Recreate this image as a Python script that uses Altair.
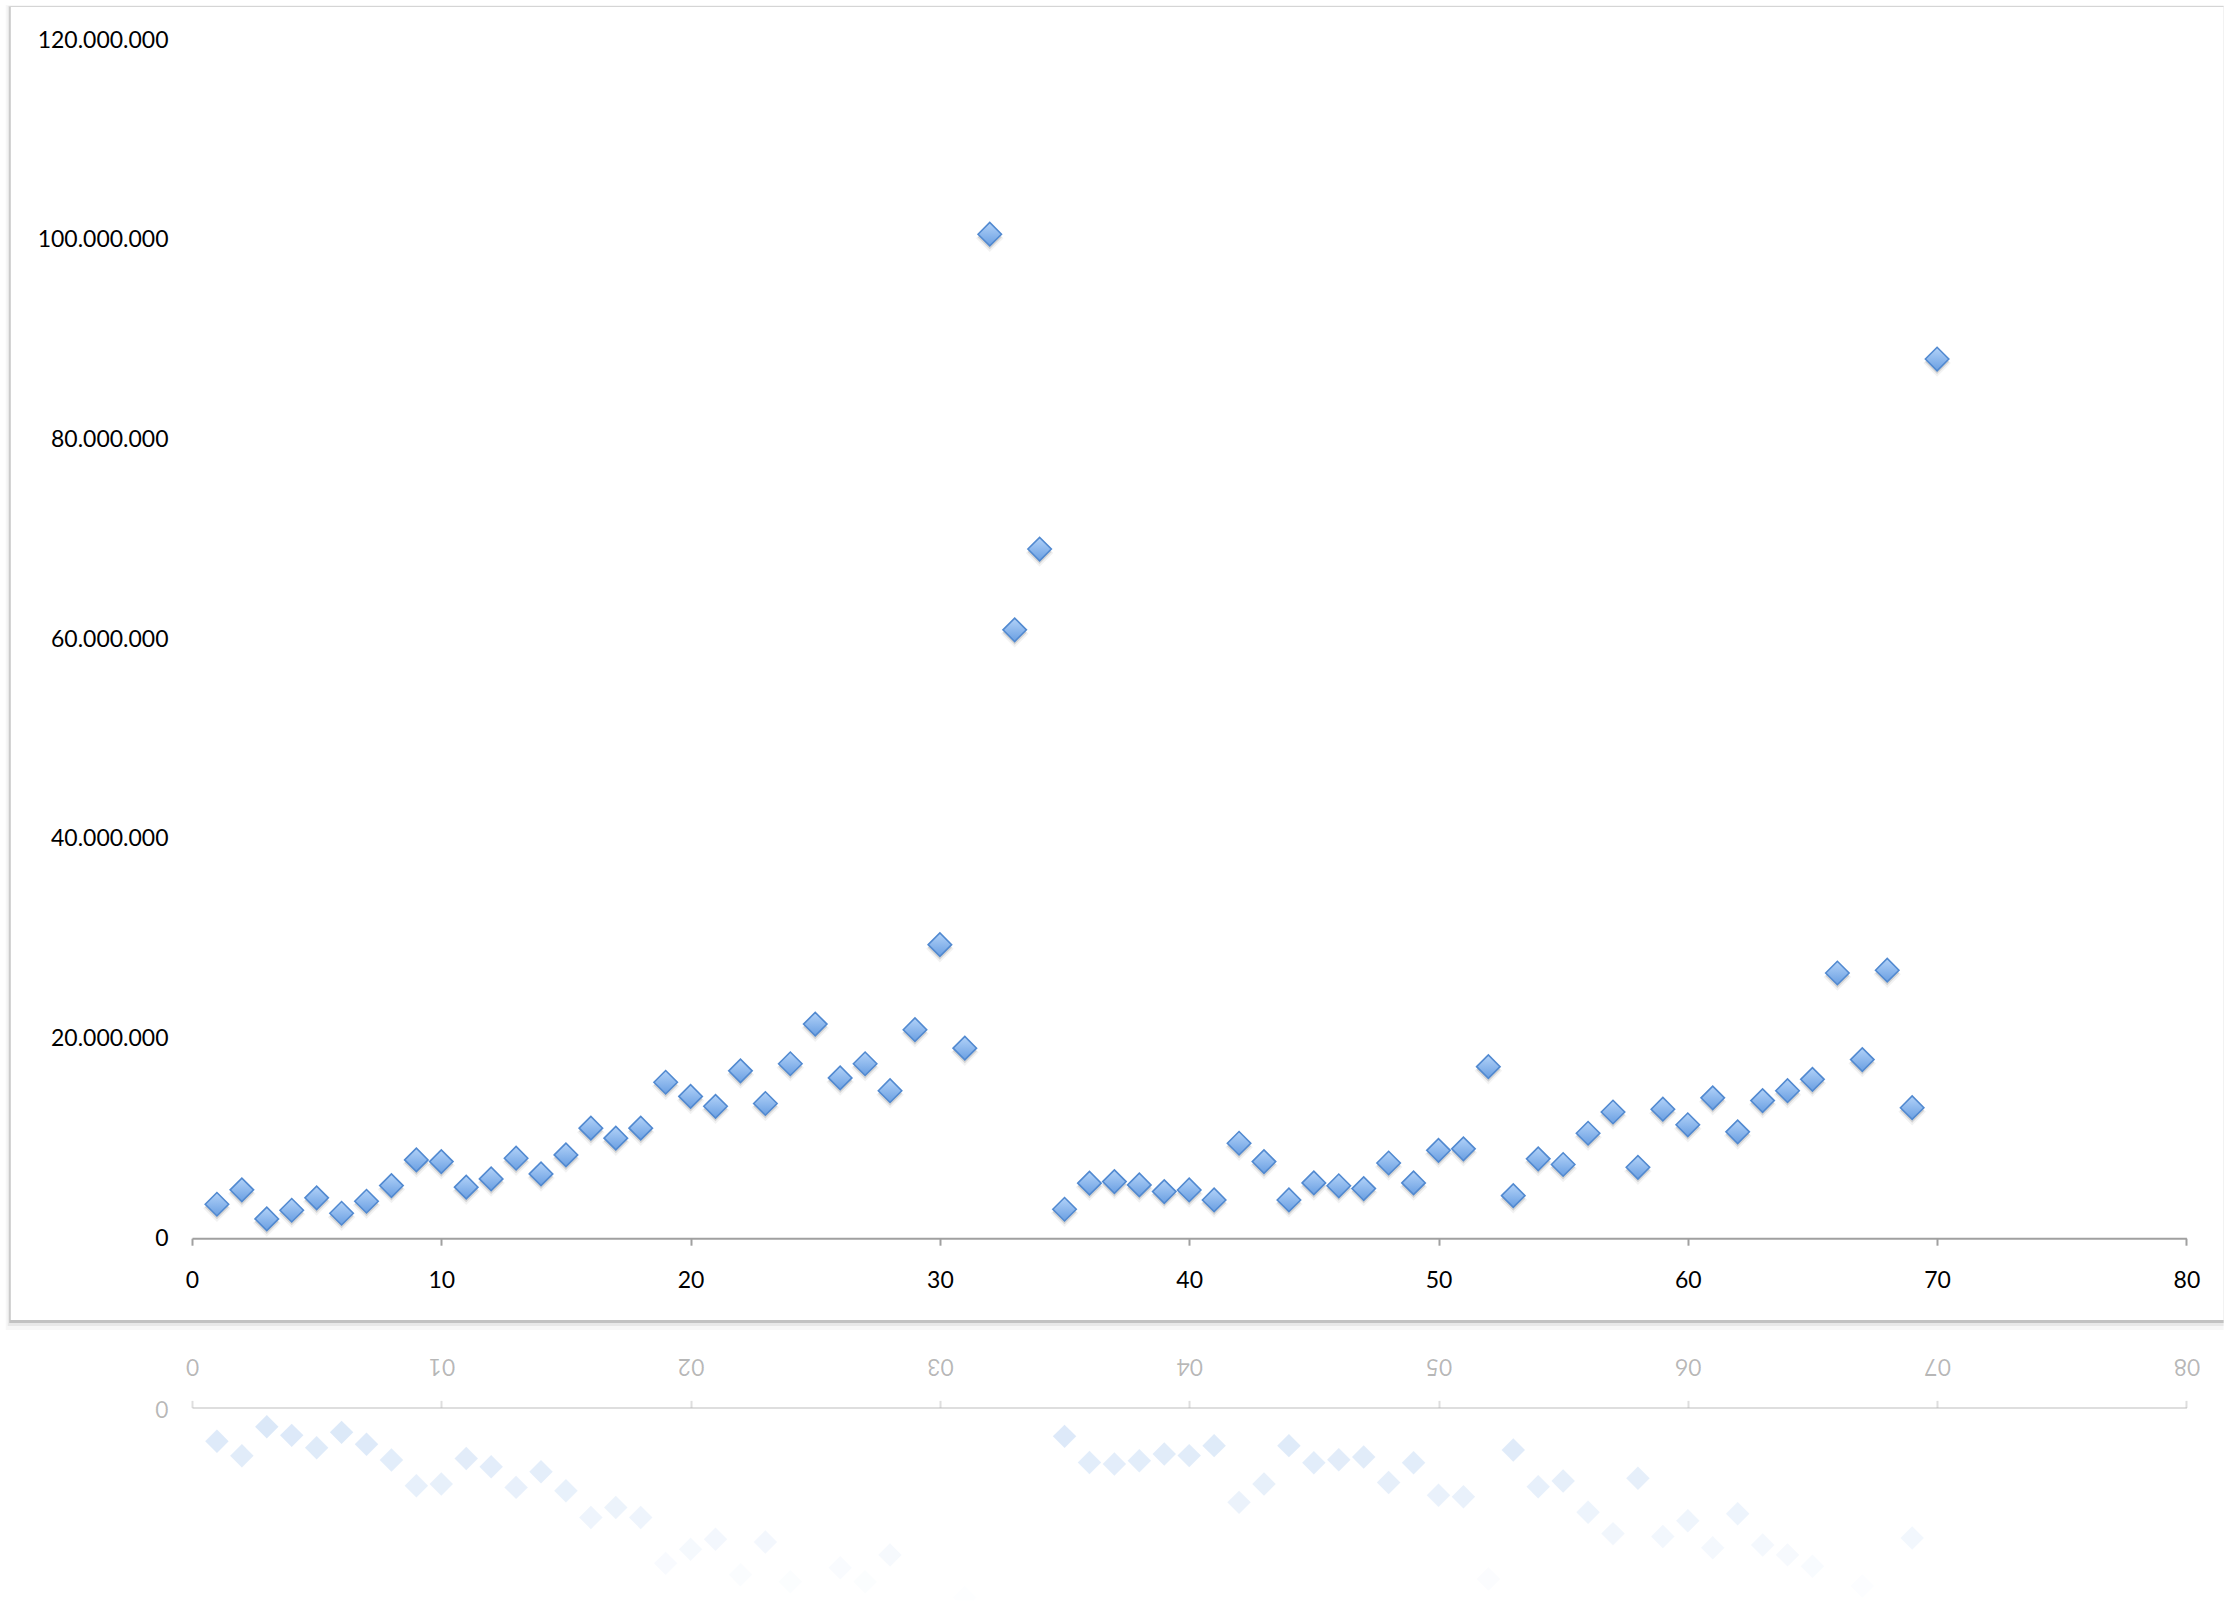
import altair as alt
import pandas as pd

# Period index and amount per period
periods = list(range(1, 71))
amounts = [
    3.40e6, 4.84e6, 1.93e6, 2.80e6, 4.04e6, 2.50e6, 3.70e6, 5.27e6, 7.84e6, 7.67e6,
    5.11e6, 5.94e6, 8.01e6, 6.44e6, 8.34e6, 11.02e6, 10.02e6, 11.02e6, 15.62e6, 14.20e6,
    13.21e6, 16.76e6, 13.49e6, 17.47e6, 21.44e6, 16.05e6, 17.47e6, 14.77e6, 20.88e6, 29.40e6,
    19.03e6, 100.55e6, 60.93e6, 69.02e6, 2.90e6, 5.51e6, 5.67e6, 5.34e6, 4.67e6, 4.83e6,
    3.83e6, 9.51e6, 7.67e6, 3.83e6, 5.54e6, 5.25e6, 4.97e6, 7.53e6, 5.54e6, 8.80e6,
    8.95e6, 17.18e6, 4.26e6, 7.95e6, 7.38e6, 10.51e6, 12.64e6, 7.10e6, 12.92e6, 11.36e6,
    14.06e6, 10.65e6, 13.78e6, 14.77e6, 15.91e6, 26.56e6, 17.89e6, 26.84e6, 13.07e6, 88.05e6,
]
x_ticks = list(range(0, 81, 10))
y_ticks = [0, 20_000_000, 40_000_000, 60_000_000, 80_000_000, 100_000_000, 120_000_000]

df = pd.DataFrame({"period": periods, "amount": amounts})
one_row = pd.DataFrame({"k": [0]})

FONT = "Lato"
FONT_SIZE = 23
AXIS_GREY = "#a0a0a0"
PX_PER_20M = 199.7
PLOT_W = 1994.4
PLOT_H = 6 * PX_PER_20M
REFL_H = 193
REFL_MAX = REFL_H / PX_PER_20M * 20_000_000
GAP = 168.4

dotted = "replace(format(datum.value, ','), regexp(',', 'g'), '.')"
# digits in reverse order; drawn turned over, this reads like a mirror image
mirrored_x = (
    "format(datum.value % 10, 'd') + "
    "(datum.value >= 10 ? format(floor(datum.value / 10), 'd') : '')"
)

marker_fill = alt.LinearGradient(
    gradient="linear",
    stops=[
        alt.GradientStop(color="#b2d2f8", offset=0),
        alt.GradientStop(color="#6a9fe2", offset=1),
    ],
    x1=0, x2=0, y1=0, y2=1,
)

x_main = alt.X(
    "period:Q",
    scale=alt.Scale(domain=[0, 80], nice=False),
    axis=alt.Axis(
        values=x_ticks, title=None, grid=False, zindex=2,
        domainColor=AXIS_GREY, domainWidth=2,
        tickColor=AXIS_GREY, tickWidth=2, tickSize=7,
        labelPadding=24, labelFont=FONT, labelFontSize=FONT_SIZE,
        labelColor="#000000", labelFlush=False, labelOverlap=False,
        labelBaseline="top",
    ),
)
y_main = alt.Y(
    "amount:Q",
    scale=alt.Scale(domain=[0, 120_000_000], nice=False),
    axis=alt.Axis(
        values=y_ticks, title=None, grid=False, domain=False, ticks=False, zindex=2,
        labelPadding=24, labelFont=FONT, labelFontSize=FONT_SIZE,
        labelColor="#000000", labelFlush=False, labelOverlap=False,
        labelExpr=dotted,
    ),
)

# White card behind the chart, with a soft drop shadow
PANEL_L, PANEL_R, PANEL_T, PANEL_B = -181.3, 2031.7, -33, 1280


def card_layer(dx, dt, db, color, opacity):
    return alt.Chart(one_row).mark_rect(fill=color, opacity=opacity).encode(
        x=alt.value(PANEL_L - dx), x2=alt.value(PANEL_R),
        y=alt.value(PANEL_T - dt), y2=alt.value(PANEL_B + db),
    )


card = (
    card_layer(5, 2, 10, "#000000", 0.03)
    + card_layer(3, 1, 6, "#000000", 0.06)
    + card_layer(1.5, 0.5, 3, "#000000", 0.16)
    + card_layer(0, 0, 0, "#ffffff", 1)
)

base = alt.Chart(df).encode(x=x_main, y=y_main)
shadow_far = base.mark_point(shape="diamond", filled=True, size=760, color="#000000",
                             opacity=0.05, yOffset=4)
shadow_near = base.mark_point(shape="diamond", filled=True, size=580, color="#000000",
                              opacity=0.12, yOffset=3)
markers = base.mark_point(shape="diamond", filled=True, size=550, fill=marker_fill,
                          stroke="#5189d0", strokeWidth=1.6, opacity=1)

main = alt.layer(card, shadow_far, shadow_near, markers).properties(
    width=PLOT_W, height=PLOT_H
)

# Faded mirror image below the card
x_refl = alt.X(
    "period:Q",
    scale=alt.Scale(domain=[0, 80], nice=False),
    axis=alt.Axis(
        orient="top", values=x_ticks, title=None, grid=False,
        domainColor=AXIS_GREY, domainWidth=2, domainOpacity=0.35,
        tickColor=AXIS_GREY, tickWidth=2, tickSize=7, tickOpacity=0.35,
        labelPadding=24, labelFont=FONT, labelFontSize=FONT_SIZE,
        labelColor="#000000", labelOpacity=0.28, labelFlush=False, labelOverlap=False,
        labelAngle=180, labelAlign="center", labelBaseline="top",
        labelExpr=mirrored_x,
    ),
)
y_refl = alt.Y(
    "amount:Q",
    scale=alt.Scale(domain=[0, REFL_MAX], nice=False, reverse=True),
    axis=alt.Axis(
        values=[0], title=None, grid=False, domain=False, ticks=False,
        labelPadding=24, labelFont=FONT, labelFontSize=FONT_SIZE,
        labelColor="#000000", labelOpacity=0.28, labelFlush=False,
        labelAngle=180, labelAlign="left", labelBaseline="middle",
    ),
)
reflection = alt.Chart(df).mark_point(
    shape="diamond", filled=True, size=550, color="#8fb8ea", clip=True
).encode(
    x=x_refl,
    y=y_refl,
    opacity=alt.Opacity(
        "amount:Q",
        scale=alt.Scale(domain=[0, 18_000_000], range=[0.36, 0.02], clamp=True),
        legend=None,
    ),
).properties(width=PLOT_W, height=REFL_H)

chart = (
    alt.vconcat(main, reflection, spacing=GAP, bounds="flush")
    .properties(padding={"left": 5, "top": 5, "right": 0, "bottom": 0}, background="white")
    .configure_view(stroke=None)
)

chart.save("out.html", embed_options={"renderer": "svg", "actions": False})
